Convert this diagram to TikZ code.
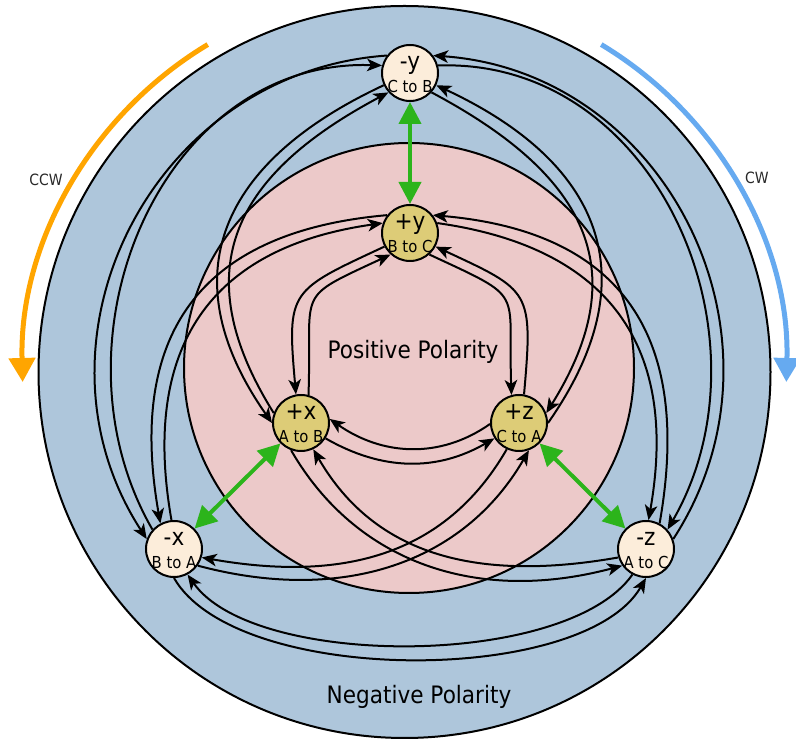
\documentclass[tikz,border=0pt]{standalone}
\usepackage{fontspec}
\setmainfont{DejaVu Sans}[FakeStretch=0.9]
\usetikzlibrary{arrows.meta}
\definecolor{ringblue}{RGB}{174,198,219}
\definecolor{ringpink}{RGB}{236,201,201}
\definecolor{posfill}{RGB}{221,204,119}
\definecolor{negfill}{RGB}{252,237,218}
\definecolor{arrgreen}{RGB}{44,180,27}
\definecolor{arrorange}{RGB}{255,165,0}
\definecolor{arrblue}{RGB}{102,170,240}
\definecolor{txtgray}{RGB}{40,40,40}
\pgfdeclarelayer{bg}
\pgfdeclarelayer{mid}
\pgfsetlayers{bg,mid,main}
\tikzset{
  statebase/.style={circle, draw=black, line width=2pt, minimum size=56pt, inner sep=0pt},
  posstate/.style={statebase, fill=posfill},
  negstate/.style={statebase, fill=negfill},
  bigtxt/.style={font=\fontsize{24}{24}\selectfont, anchor=base, inner sep=0pt},
  smalltxt/.style={font=\fontsize{16.5}{16.5}\selectfont, anchor=base, inner sep=0pt},
  tr/.style={line width=2pt, -{Stealth[length=15pt,width=12.5pt,inset=4pt]}},
  garrow/.style={line width=4pt, draw=arrgreen, {Triangle[length=22pt,width=22pt]}-{Triangle[length=22pt,width=22pt]}},
  rotarrow/.style={line width=5pt, -{Triangle[length=24pt,width=26pt]}},
  polaritytxt/.style={font=\fontsize{24}{24}\selectfont, text=black},
  dirtxt/.style={font=\fontsize{15.5}{15.5}\selectfont, text=txtgray}
}
\begin{document}
\begin{tikzpicture}[x=1pt,y=1pt]
\useasboundingbox (0,0) rectangle (796,739);
\begin{pgfonlayer}{bg}
  \fill[white] (0,0) rectangle (796,739);
  \draw[fill=ringblue, line width=2pt] (404.5,367) circle[radius=366];
  \draw[fill=ringpink, line width=2pt] (409,371) circle[radius=225];
  \draw[rotarrow, draw=arrorange] (404.5,367) ++(121:382) arc[start angle=121, end angle=181.5, radius=382];
  \draw[rotarrow, draw=arrblue] (404.5,367) ++(59:382) arc[start angle=59, end angle=-1.5, radius=382];
\end{pgfonlayer}

\node[dirtxt] (ccwlabel) at (46,559) {CCW};
\node[dirtxt] (cwlabel) at (757,561) {CW};
\node[polaritytxt] (posl) at (413,387) {Positive Polarity};
\node[polaritytxt] (negl) at (419,42) {Negative Polarity};

% states
\node[negstate] (ny) at (410,666) {};
\node[posstate] (py) at (410,506) {};
\node[posstate] (px) at (301,316) {};
\node[posstate] (pz) at (519,316) {};
\node[negstate] (nx) at (174,190) {};
\node[negstate] (nz) at (646,190) {};

\node[bigtxt] (nyt) at ([yshift=3pt]ny.center) {-y};
\node[smalltxt] (nys) at ([yshift=-20pt]ny.center) {C to B};
\node[bigtxt] (pyt) at ([yshift=3pt]py.center) {+y};
\node[smalltxt] (pys) at ([yshift=-20pt]py.center) {B to C};
\node[bigtxt] (pxt) at ([yshift=3pt]px.center) {+x};
\node[smalltxt] (pxs) at ([yshift=-20pt]px.center) {A to B};
\node[bigtxt] (pzt) at ([yshift=3pt]pz.center) {+z};
\node[smalltxt] (pzs) at ([yshift=-20pt]pz.center) {C to A};
\node[bigtxt] (nxt) at ([yshift=3pt]nx.center) {-x};
\node[smalltxt] (nxs) at ([yshift=-20pt]nx.center) {B to A};
\node[bigtxt] (nzt) at ([yshift=3pt]nz.center) {-z};
\node[smalltxt] (nzs) at ([yshift=-20pt]nz.center) {A to C};

\begin{pgfonlayer}{mid}
  % inner ring
  \draw[tr] (py.208) to[out=205,in=95,distance=105pt] (px.100);
  \draw[tr] (px.75) to[out=88,in=205,distance=108pt] (py.228);
  \draw[tr] (pz.80) to[out=85,in=335,distance=105pt] (py.332);
  \draw[tr] (py.312) to[out=335,in=92,distance=108pt] (pz.105);
  \draw[tr] (px.328) to[out=330,in=210] (pz.212);
  \draw[tr] (pz.182) to[out=215,in=325] (px.8);
  % outer ring
  \draw[tr] (ny.143) to[out=184,in=123,distance=236pt] (nx.160);
  \draw[tr] (nx.138) to[out=120,in=178,distance=220pt] (ny.165);
  \draw[tr] (nz.20) to[out=57,in=356,distance=236pt] (ny.37);
  \draw[tr] (ny.15) to[out=2,in=60,distance=220pt] (nz.42);
  \draw[tr] (nx.270) to[out=300,in=240,distance=125pt] (nz.270);
  \draw[tr] (nz.242) to[out=235,in=305,distance=115pt] (nx.298);
  % cross connections
  \draw[tr] (ny.205) to[out=205,in=125,distance=180pt] (px.180);
  \draw[tr] (px.160) to[out=122,in=208,distance=172pt] (ny.222);
  \draw[tr] (pz.0) to[out=55,in=335,distance=180pt] (ny.335);
  \draw[tr] (ny.318) to[out=332,in=58,distance=172pt] (pz.20);
  \draw[tr] (py.142) to[out=185,in=100,distance=190pt] (nx.118);
  \draw[tr] (nx.95) to[out=100,in=188,distance=175pt] (py.160);
  \draw[tr] (nz.62) to[out=80,in=355,distance=190pt] (py.38);
  \draw[tr] (py.20) to[out=352,in=80,distance=175pt] (nz.85);
  \draw[tr] (nx.325) to[out=345,in=240,out distance=150pt,in distance=130pt] (pz.290);
  \draw[tr] (pz.245) to[out=240,in=350,out distance=125pt,in distance=140pt] (nx.343);
  \draw[tr] (px.250) to[out=300,in=195,out distance=130pt,in distance=150pt] (nz.215);
  \draw[tr] (nz.197) to[out=190,in=300,out distance=140pt,in distance=125pt] (px.295);
  % complementary pairs
  \draw[garrow] (ny) -- (py);
  \draw[garrow] (px) -- (nx);
  \draw[garrow] (pz) -- (nz);
\end{pgfonlayer}
\end{tikzpicture}
\end{document}
